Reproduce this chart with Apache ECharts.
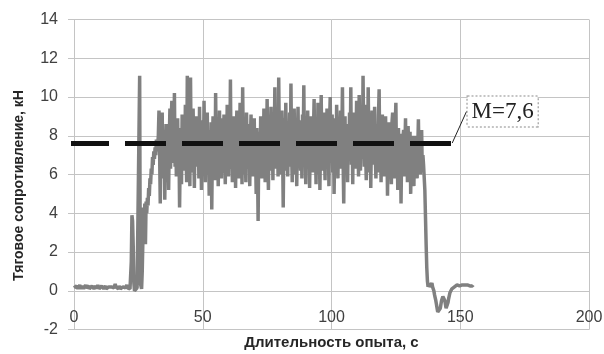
<!DOCTYPE html>
<html>
<head>
<meta charset="utf-8">
<script src="https://cdn.jsdelivr.net/npm/echarts@6/dist/echarts.min.js"></script>
<style>
  html, body { margin: 0; padding: 0; background: #fff; }
  #chart { width: 604px; height: 354px; }
</style>
</head>
<body>
<div id="chart"></div>
<script>
// Draft-force log, sampled every 0.25 s (kN)
const sampleStep = 0.25;
const forceKN = [
  // 0 – 21.75 s: idle
  0.15,0.2,0.1,0.2,0.25,0.15,0.1,0.2,0.15,0.3,0.2,0.1,0.15,0.25,0.2,0.1,0.15,0.2,0.3,0.15,
  0.1,0.2,0.15,0.25,0.1,0.15,0.2,0.1,0.25,0.15,0.2,0.1,0.15,0.2,0.25,0.1,0.15,0.3,0.2,0.1,
  0.2,0.15,0.1,0.25,0.2,0.15,0.1,0.2,0.15,0.25,0.1,0.2,0.15,0.1,0.2,0.3,0.15,0.1,0.2,0.15,
  0.1,0.2,0.15,0.25,0.35,0.2,0.1,0.15,0.2,0.1,0.25,0.15,0.1,0.2,0.15,0.1,0.2,0.25,0.15,0.1,
  0.15,0.2,0.3,0.15,0.1,0.2,0.15,0.1,
  // 22 – 32.75 s: start-up
  0.1,1.5,3.9,3.6,2.3,0.4,0.0,-0.1,0.1,0.0,0.15,0.1,0.2,0.1,11.1,0.4,0.3,0.1,1.0,2.6,
  4.3,3.0,4.5,2.4,4.6,4.0,4.8,4.4,5.3,4.9,5.8,5.5,6.3,6.0,6.9,6.5,7.2,6.8,7.4,7.0,
  7.8,7.2,7.5,8.0,
  // 33 – 135.75 s: working run
  9.3,7.1,4.5,8.4,6.2,9.2,5.8,7.6,8.1,4.7,7.3,8.6,5.6,6.9,8.2,5.2,7.8,9.4,6.3,8.8,
  9.8,6.6,8.3,7.2,10.2,6.4,8.7,5.9,7.5,8.9,6.1,7.9,4.3,7.0,8.4,5.5,9.1,6.8,7.7,8.5,
  6.2,9.6,7.4,5.6,11.1,7.8,6.5,8.9,5.4,11.0,7.0,8.2,6.1,9.4,7.3,5.3,8.6,6.9,9.0,6.4,
  7.7,8.4,5.8,9.5,6.7,8.0,5.2,7.6,8.8,6.3,9.8,7.1,5.6,8.5,6.8,9.2,6.0,7.9,4.9,8.3,
  6.4,8.7,4.2,7.5,9.0,6.2,8.1,5.7,10.2,6.9,7.6,8.8,5.4,7.2,9.3,6.5,8.0,5.8,8.9,7.0,
  6.1,9.1,7.3,5.5,8.4,6.8,9.6,7.4,5.9,8.2,7.0,10.9,6.3,8.6,5.6,7.8,9.0,6.6,8.3,5.3,
  7.9,9.3,6.2,8.5,5.8,7.4,9.7,6.7,8.1,5.5,10.5,7.3,6.0,8.8,7.1,5.6,9.2,6.9,8.0,6.3,
  8.6,5.4,7.7,9.1,6.4,8.3,5.9,7.5,8.9,6.1,7.2,5.0,8.4,6.6,3.6,7.4,8.2,6.0,9.0,7.1,
  5.8,8.7,6.5,9.4,7.2,5.6,8.3,6.8,9.9,7.0,5.2,8.6,6.4,7.9,9.5,6.2,8.1,5.7,9.2,7.5,
  10.5,6.3,8.4,7.1,9.0,5.9,11.0,7.6,6.5,8.8,6.0,9.3,7.4,4.3,7.8,8.9,6.2,9.7,6.7,8.2,
  5.9,8.5,7.0,9.2,6.4,10.7,7.3,5.6,8.6,6.8,9.4,7.1,6.0,8.3,5.4,7.7,9.5,6.5,8.1,7.2,
  6.2,8.8,5.8,9.1,7.4,10.6,6.6,8.0,5.5,8.9,7.0,9.3,6.3,8.4,5.3,7.6,9.0,6.8,8.5,6.1,
  8.2,9.9,6.4,7.7,5.5,8.6,7.1,9.7,6.0,8.1,5.2,7.9,10.1,6.7,8.4,6.2,9.2,7.3,5.7,8.8,
  6.5,9.4,7.2,8.0,5.4,8.7,10.0,6.6,7.8,9.1,6.1,8.3,5.0,7.5,8.9,6.4,9.6,7.0,5.8,8.5,
  6.9,8.2,9.3,6.3,7.7,10.5,6.8,4.5,8.1,9.0,6.0,7.4,8.6,5.6,7.9,6.7,9.2,7.1,10.5,6.5,
  8.4,5.5,9.2,7.0,8.7,6.3,7.6,9.8,6.6,8.3,5.9,10.1,7.4,6.2,9.0,7.7,6.8,11.1,8.0,6.4,
  9.6,7.2,5.7,8.5,6.9,10.5,7.5,6.1,8.8,5.3,7.8,9.3,6.5,8.2,6.7,9.5,7.0,5.8,8.6,7.3,
  6.1,9.0,10.4,6.8,8.3,5.6,7.9,9.1,6.5,8.4,5.9,7.6,9.0,6.3,8.0,4.9,7.4,8.7,6.2,8.2,
  7.0,5.5,8.7,9.2,6.4,7.8,5.8,8.5,9.7,6.6,7.3,5.2,8.4,6.9,7.6,8.1,4.5,7.2,6.0,7.9,
  8.3,5.9,7.4,8.9,6.3,7.7,5.6,8.5,6.8,7.2,8.2,5.0,6.9,7.8,6.1,8.0,5.4,7.7,6.4,7.1,
  8.0,5.8,7.3,8.85,6.6,7.9,6.0,7.4,8.3,6.2,7.0,6.5,
  // 136 – 155 s: lift-out and stop
  6.4,5.2,3.8,2.4,1.2,0.5,0.2,0.4,
  0.3,0.2,0.1,0.3,0.4,0.2,0.1,0.0,
  -0.2,-0.35,-0.5,-0.7,-0.9,-1.1,-1.2,-1.2,
  -1.1,-0.9,-0.7,-0.5,-0.4,-0.3,-0.3,-0.4,
  -0.5,-0.7,-0.9,-0.9,-0.8,-0.6,-0.4,-0.25,
  -0.1,0.0,0.0,0.1,0.2,0.1,0.1,0.2,
  0.3,0.25,0.2,0.3,0.35,0.3,0.2,0.25,
  0.3,0.35,0.25,0.3,0.35,0.3,0.2,0.3,
  0.25,0.3,0.35,0.3,0.25,0.35,0.3,0.25,
  0.3,0.35,0.3,0.25,0.3
];

// Mean draft force and the time span its marker covers (s)
const meanKN = 7.6;
const meanSpan = [-2.33, 146.8];
const meanLabel = 'M=7,6';

// Axis ranges
const xRange = { min: 0, max: 200, interval: 50 };
const yRange = { min: -2, max: 14, interval: 2 };
const xTitle = 'Длительность опыта, с';
const yTitle = 'Тяговое сопротивление, кН';

const forceSeries = forceKN.map((v, i) => [i * sampleStep, v]);

const gridColor = '#c4c4c4';
const tickFont = { fontFamily: 'Liberation Sans', fontSize: 16, color: '#404040' };
const titleFont = { fontFamily: 'Liberation Sans', fontWeight: 'bold', color: '#262626' };

const chart = echarts.init(document.getElementById('chart'), null, { renderer: 'canvas' });
chart.setOption({
  animation: false,
  backgroundColor: '#fff',
  grid: { left: 74, right: 15, top: 19.5, bottom: 24.5, containLabel: false, outerBoundsMode: 'none' },
  xAxis: {
    type: 'value',
    min: xRange.min, max: xRange.max, interval: xRange.interval,
    axisLine: { show: true, onZero: false, lineStyle: { color: gridColor, width: 1 } },
    axisTick: { show: false },
    // tick labels sit just above the bottom edge, under the zero line
    axisLabel: Object.assign({ margin: -20 }, tickFont),
    splitLine: { show: true, lineStyle: { color: gridColor, width: 1 } },
    name: xTitle,
    nameLocation: 'middle',
    nameGap: 5,
    nameTextStyle: Object.assign({ fontSize: 15 }, titleFont)
  },
  yAxis: {
    type: 'value',
    min: yRange.min, max: yRange.max, interval: yRange.interval,
    axisLine: { show: true, lineStyle: { color: gridColor, width: 1 } },
    axisTick: { show: true, length: 6, lineStyle: { color: gridColor } },
    axisLabel: Object.assign({ margin: 16 }, tickFont),
    splitLine: { show: true, lineStyle: { color: gridColor, width: 1 } },
    name: yTitle,
    nameLocation: 'middle',
    nameGap: 48,
    nameTextStyle: Object.assign({ fontSize: 14, padding: [0, 22, 0, 0] }, titleFont)
  },
  series: [
    {
      name: 'force',
      type: 'line',
      data: forceSeries,
      showSymbol: false,
      symbol: 'none',
      lineStyle: { color: '#808080', width: 3.5 },
      z: 2,
      silent: true
    },
    {
      name: 'mean',
      type: 'line',
      clip: false,
      data: [
        { value: [meanSpan[0], meanKN] },
        {
          value: [meanSpan[1], meanKN],
          label: {
            show: true,
            formatter: meanLabel,
            position: 'right',
            distance: 0,
            fontFamily: 'Liberation Serif',
            fontSize: 23,
            color: '#222',
            backgroundColor: '#fff',
            borderColor: '#8a8a8a',
            borderWidth: 1,
            borderType: 'dotted',
            padding: [4, 4, 3, 4]
          }
        }
      ],
      symbol: 'circle',
      symbolSize: 1,
      itemStyle: { color: 'rgba(0,0,0,0)' },
      lineStyle: { color: '#111', width: 5, type: [41, 16], cap: 'butt' },
      labelLayout: { dx: 15, dy: -32 },
      labelLine: { show: true, lineStyle: { color: '#222', width: 1 } },
      z: 3,
      silent: true
    }
  ]
});
</script>
</body>
</html>
